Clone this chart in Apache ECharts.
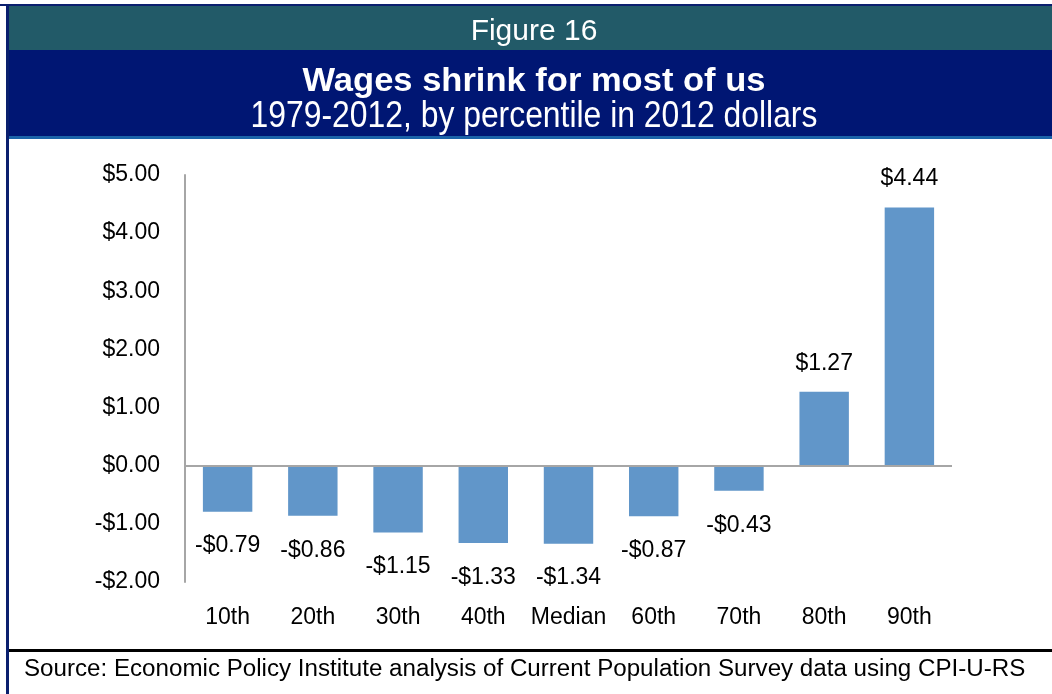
<!DOCTYPE html>
<html>
<head>
<meta charset="utf-8">
<script src="https://cdn.jsdelivr.net/npm/echarts@6/dist/echarts.min.js"></script>
<style>
html,body{margin:0;padding:0;background:#fff;}
#chart{width:1052px;height:694px;}
</style>
</head>
<body>
<div id="chart"></div>
<script>
var categories = ['10th','20th','30th','40th','Median','60th','70th','80th','90th'];
var values = [-0.79,-0.86,-1.15,-1.33,-1.34,-0.87,-0.43,1.27,4.44];
var yTicks = {min:-2, max:5, interval:1};
var figureLabel = 'Figure 16';
var titleText = 'Wages shrink for most of us';
var subtitleText = '1979-2012, by percentile in 2012 dollars';
var sourceText = 'Source: Economic Policy Institute analysis of Current Population Survey data using CPI-U-RS';

function money(v){
  return (v < 0 ? '-$' : '$') + Math.abs(v).toFixed(2);
}

var FONT = 'Liberation Sans, Arial, Helvetica, sans-serif';
var chart = echarts.init(document.getElementById('chart'));

var barData = values.map(function(v){
  return {
    value: v,
    label: v < 0 ? {position:'bottom', distance:23} : {position:'top', distance:17}
  };
});

chart.setOption({
  animation:false,
  backgroundColor:'#ffffff',
  grid:{left:185, right:100, top:175, bottom:112},
  xAxis:{
    type:'category',
    data:categories,
    axisLine:{show:false, onZero:false},
    axisTick:{show:false},
    axisLabel:{color:'#000', fontFamily:FONT, fontSize:23, margin:24, interval:0}
  },
  yAxis:{
    type:'value',
    min:yTicks.min, max:yTicks.max, interval:yTicks.interval,
    splitLine:{show:false},
    axisLine:{show:true, lineStyle:{color:'#a6a6a6', width:2}},
    axisTick:{show:false},
    axisLabel:{color:'#000', fontFamily:FONT, fontSize:23, margin:25, formatter:money}
  },
  series:[{
    type:'bar',
    data:barData,
    barCategoryGap:'42%',
    itemStyle:{color:'#6196c9'},
    label:{show:true, color:'#000', fontFamily:FONT, fontSize:23, formatter:function(p){return money(p.value);}},
    markLine:{
      silent:true, symbol:'none', label:{show:false},
      lineStyle:{color:'#a6a6a6', width:2, type:'solid'},
      data:[{yAxis:0}]
    }
  }],
  graphic:[
    {type:'rect', shape:{x:0,y:4,width:1052,height:2}, style:{fill:'#0a1f6e'}, silent:true},
    {type:'rect', shape:{x:9,y:6,width:1043,height:44}, style:{fill:'#225a68'}, silent:true},
    {type:'rect', shape:{x:9,y:50,width:1043,height:86}, style:{fill:'#001673'}, silent:true},
    {type:'rect', shape:{x:9,y:136,width:1043,height:3}, style:{fill:'#1b63a8'}, silent:true},
    {type:'rect', shape:{x:6,y:4,width:3,height:690}, style:{fill:'#0a1f6e'}, silent:true},
    {type:'rect', shape:{x:9,y:649,width:1043,height:3}, style:{fill:'#000000'}, silent:true},
    {type:'text', x:534, y:32, silent:true,
      style:{text:figureLabel, fill:'#ffffff', font:'30px '+FONT, textAlign:'center', textVerticalAlign:'middle', align:'center', verticalAlign:'middle'}},
    {type:'text', x:534, y:82, scaleX:1.046, silent:true,
      style:{text:titleText, fill:'#ffffff', font:'bold 33px '+FONT, textAlign:'center', textVerticalAlign:'middle', align:'center', verticalAlign:'middle'}},
    {type:'text', x:534, y:117, scaleX:0.885, silent:true,
      style:{text:subtitleText, fill:'#ffffff', font:'36px '+FONT, textAlign:'center', textVerticalAlign:'middle', align:'center', verticalAlign:'middle'}},
    {type:'text', x:24, y:670, scaleX:1.05, silent:true,
      style:{text:sourceText, fill:'#000000', font:'23px '+FONT, textAlign:'left', textVerticalAlign:'middle', align:'left', verticalAlign:'middle'}}
  ]
});
</script>
</body>
</html>
